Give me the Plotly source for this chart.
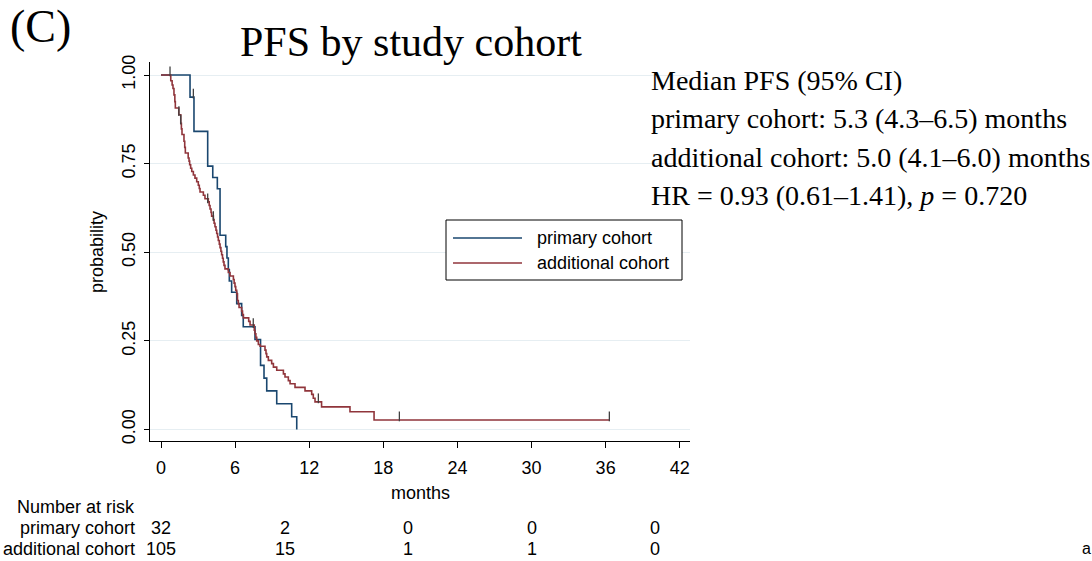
import plotly.graph_objects as go

# ---------------- data ----------------
# primary cohort (blue): step times (months) and survival level after each step
blue_t = [0, 2.35, 2.67, 3.78, 4.19, 4.56, 4.78, 5.24, 5.34, 5.45, 5.53, 5.72,
          6.13, 6.53, 6.66, 7.61, 8.06, 8.34, 8.56, 9.37, 10.58, 10.99]
blue_s = [1.0, 0.9375, 0.841, 0.743, 0.711, 0.679, 0.548, 0.516, 0.484, 0.451,
          0.419, 0.387, 0.355, 0.322, 0.290, 0.254, 0.181, 0.145, 0.109, 0.0725,
          0.036, 0.0]
blue_cens_t = [0.73, 2.62, 7.47]
blue_cens_s = [1.0, 0.9375, 0.290]

# additional cohort (red)
red_t = [0, 0.79, 0.90, 0.97, 1.05, 1.12, 1.16, 1.44, 1.60, 1.65, 1.70, 1.86, 1.92,
         1.97, 2.20, 2.27, 2.32, 2.40, 2.49, 2.62, 2.75, 2.89, 3.02, 3.10, 3.16,
         3.43, 3.56, 3.83, 3.90, 3.97, 4.05, 4.10, 4.24, 4.30, 4.37, 4.45, 4.51,
         4.58, 4.64, 4.72, 4.78, 4.85, 4.91, 4.98, 5.04, 5.10, 5.18, 5.45, 5.59,
         5.86, 5.92, 5.99, 6.05, 6.13, 6.19, 6.26, 6.32, 6.53, 6.60, 6.67, 7.10,
         7.21, 7.55, 7.61, 7.68, 7.75, 7.88, 8.02, 8.42, 8.50, 8.56, 8.69, 8.96,
         9.10, 9.37, 9.91, 10.04, 10.31, 10.45, 10.85, 11.66, 12.20, 12.33, 12.47,
         13.00, 15.30, 17.25, 36.30]
red_s = [1.0, 0.984, 0.972, 0.962, 0.944, 0.925, 0.907, 0.888, 0.864, 0.848, 0.832,
         0.813, 0.796, 0.780, 0.766, 0.757, 0.747, 0.737, 0.728, 0.718, 0.709,
         0.699, 0.689, 0.680, 0.670, 0.661, 0.651, 0.642, 0.632, 0.622, 0.612,
         0.602, 0.592, 0.582, 0.572, 0.562, 0.553, 0.543, 0.533, 0.523, 0.513,
         0.503, 0.493, 0.483, 0.473, 0.463, 0.453, 0.443, 0.433, 0.423, 0.413,
         0.403, 0.393, 0.383, 0.364, 0.354, 0.344, 0.334, 0.324, 0.315, 0.305,
         0.295, 0.280, 0.270, 0.260, 0.250, 0.240, 0.235, 0.224, 0.214, 0.205,
         0.195, 0.186, 0.176, 0.167, 0.157, 0.148, 0.138, 0.129, 0.119, 0.109,
         0.099, 0.088, 0.078, 0.064, 0.050, 0.027, 0.027]
red_cens_t = [1.45, 1.60, 3.78, 4.24, 12.74, 19.30, 36.30]
red_cens_s = [0.888, 0.864, 0.642, 0.592, 0.078, 0.027, 0.027]

x_ticks = [0, 6, 12, 18, 24, 30, 36, 42]
y_ticks = [0, 0.25, 0.5, 0.75, 1.0]
y_ticklabels = ["0.00", "0.25", "0.50", "0.75", "1.00"]

risk_times = [0, 10, 20, 30, 40]
risk_primary = [32, 2, 0, 0, 0]
risk_additional = [105, 15, 1, 1, 0]

series_names = ["primary cohort", "additional cohort"]
stats_lines = ["Median PFS (95% CI)",
               "primary cohort: 5.3 (4.3–6.5) months",
               "additional cohort: 5.0 (4.1–6.0) months",
               "HR = 0.93 (0.61–1.41), <i>p</i> = 0.720"]

# ---------------- style / layout ----------------
BLUE = "#1a476f"
RED = "#90353b"
TICKCOL = "#404040"
SANS = "Liberation Sans, Arial, sans-serif"
SERIF = "Liberation Serif, Times New Roman, serif"
W, H = 1092, 561
L, R, T, B = 150, 690, 62, 441  # plot area in pixels
XR = [-0.891, 42.83]
YR = [-0.0324, 1.0367]


def px(x):
    return (x - L) / (R - L)


def py(y):
    return (B - y) / (B - T)


fig = go.Figure()
fig.add_trace(go.Scatter(x=blue_t, y=blue_s, mode="lines", line_shape="hv",
                         line=dict(color=BLUE, width=1.6), name=series_names[0],
                         showlegend=False))
fig.add_trace(go.Scatter(x=red_t, y=red_s, mode="lines", line_shape="hv",
                         line=dict(color=RED, width=1.6), name=series_names[1],
                         showlegend=False))
cens_t = blue_cens_t + red_cens_t
cens_s = [s + 0.010 for s in blue_cens_s + red_cens_s]
fig.add_trace(go.Scatter(x=cens_t, y=cens_s, mode="markers",
                         marker=dict(symbol="line-ns-open", size=7, color=TICKCOL,
                                     line=dict(color=TICKCOL, width=1.3)),
                         showlegend=False, hoverinfo="skip"))

ann = []
# title and panel letter
ann.append(dict(text="PFS by study cohort", x=px(411), y=py(42), xref="paper", yref="paper",
                showarrow=False, xanchor="center", yanchor="middle",
                font=dict(family=SERIF, size=42, color="black")))
ann.append(dict(text="(C)", x=px(8), y=py(27), xref="paper", yref="paper",
                showarrow=False, xanchor="left", yanchor="middle",
                font=dict(family=SERIF, size=46, color="black")))
# stats text
for i, line in enumerate(stats_lines):
    ann.append(dict(text=line, x=px(649), y=py(80 + 38.5 * i), xref="paper", yref="paper",
                    showarrow=False, xanchor="left", yanchor="middle",
                    font=dict(family=SERIF, size=28, color="black")))
# axis titles
ann.append(dict(text="months", x=px(420), y=py(493), xref="paper", yref="paper",
                showarrow=False, xanchor="center", yanchor="middle",
                font=dict(family=SANS, size=18, color="black")))
ann.append(dict(text="probability", x=px(97), y=py(252), xref="paper", yref="paper",
                showarrow=False, xanchor="center", yanchor="middle", textangle=-90,
                font=dict(family=SANS, size=18, color="black")))
# number at risk table
ann.append(dict(text="Number at risk", x=px(137), y=py(507), xref="paper", yref="paper",
                showarrow=False, xanchor="right", yanchor="middle",
                font=dict(family=SANS, size=18, color="black")))
for name, counts, ypx in [(series_names[0], risk_primary, 528),
                          (series_names[1], risk_additional, 549)]:
    ann.append(dict(text=name, x=px(137), y=py(ypx), xref="paper", yref="paper",
                    showarrow=False, xanchor="right", yanchor="middle",
                    font=dict(family=SANS, size=18, color="black")))
    for t, c in zip(risk_times, counts):
        ann.append(dict(text=str(c), x=t, y=py(ypx), xref="x", yref="paper",
                        showarrow=False, xanchor="center", yanchor="middle",
                        font=dict(family=SANS, size=18, color="black")))
# stray corner glyph
ann.append(dict(text="a", x=px(1086), y=py(548), xref="paper", yref="paper",
                showarrow=False, xanchor="center", yanchor="middle",
                font=dict(family=SANS, size=16, color="black")))

# manual legend
shapes = [dict(type="rect", xref="paper", yref="paper", x0=px(446), x1=px(682),
               y0=py(220), y1=py(280), line=dict(color="black", width=1),
               fillcolor="white", layer="above")]
for name, col, ypx in [(series_names[0], BLUE, 238), (series_names[1], RED, 263)]:
    shapes.append(dict(type="line", xref="paper", yref="paper", x0=px(453), x1=px(522),
                       y0=py(ypx), y1=py(ypx), line=dict(color=col, width=1.6),
                       layer="above"))
    ann.append(dict(text=name, x=px(535), y=py(ypx), xref="paper", yref="paper",
                    showarrow=False, xanchor="left", yanchor="middle",
                    font=dict(family=SANS, size=18, color="black")))

fig.update_layout(
    width=W, height=H, autosize=False,
    margin=dict(l=L, r=W - R, t=T, b=H - B, pad=0),
    paper_bgcolor="white", plot_bgcolor="white",
    showlegend=False,
    annotations=ann, shapes=shapes,
    xaxis=dict(range=XR, tickvals=x_ticks, ticks="outside", ticklen=6, tickwidth=1,
               tickcolor="black", showline=True, linecolor="black", linewidth=1,
               showgrid=False, zeroline=False, ticklabelstandoff=4,
               tickfont=dict(family=SANS, size=18, color="black")),
    yaxis=dict(range=YR, tickvals=y_ticks, ticktext=y_ticklabels, ticks="outside",
               ticklen=5, tickwidth=1, tickcolor="black", showline=True,
               linecolor="black", linewidth=1, showgrid=True, gridcolor="#e6eef2",
               gridwidth=1, zeroline=False, tickangle=-90, ticklabelstandoff=2,
               tickfont=dict(family=SANS, size=18, color="black")),
)

fig.write_html("out.html")
